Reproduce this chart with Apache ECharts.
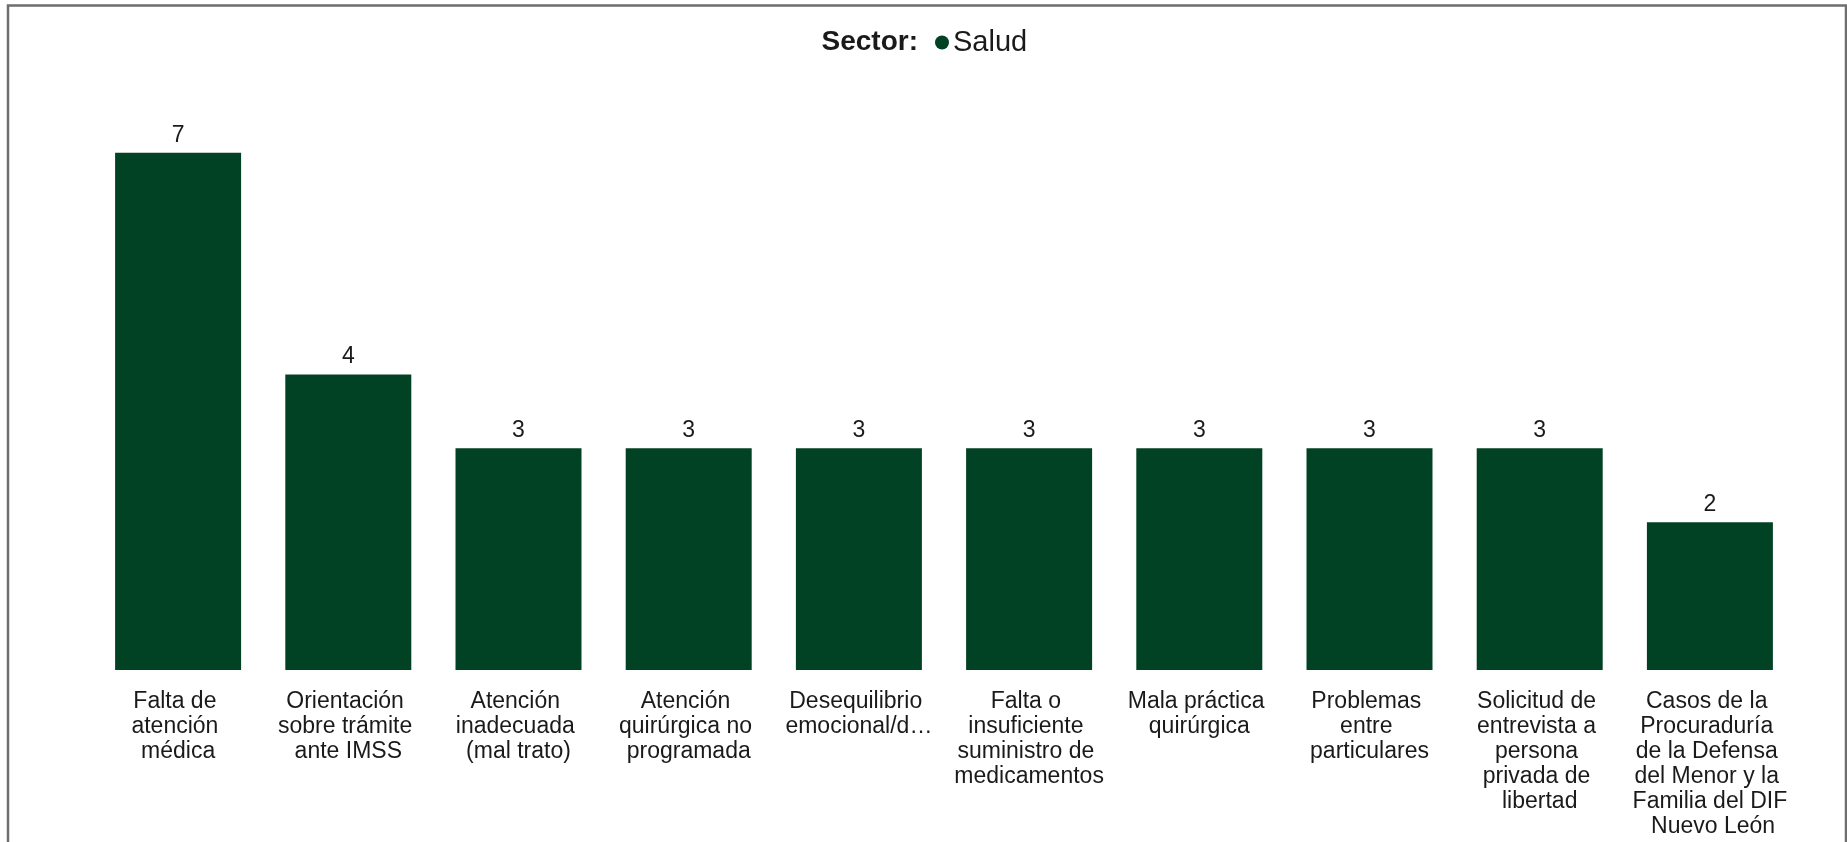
<!DOCTYPE html>
<html>
<head>
<meta charset="utf-8">
<script src="https://cdn.jsdelivr.net/npm/echarts@6/dist/echarts.min.js"></script>
<style>
html,body{margin:0;padding:0;background:#fff;}
#chart{width:1847px;height:842px;}
</style>
</head>
<body>
<div id="chart"></div>
<script>
const categories = [
  "Falta de atención médica",
  "Orientación sobre trámite ante IMSS",
  "Atención inadecuada (mal trato)",
  "Atención quirúrgica no programada",
  "Desequilibrio emocional/d…",
  "Falta o insuficiente suministro de medicamentos",
  "Mala práctica quirúrgica",
  "Problemas entre particulares",
  "Solicitud de entrevista a persona privada de libertad",
  "Casos de la Procuraduría de la Defensa del Menor y la Familia del DIF Nuevo León"
];
const seriesName = "Salud";
const values = [7, 4, 3, 3, 3, 3, 3, 3, 3, 2];
const legendTitle = "Sector:";

const chart = echarts.init(document.getElementById('chart'));
const font = '"Liberation Sans", Arial, sans-serif';
chart.setOption({
  animation: false,
  backgroundColor: '#fff',
  textStyle: { fontFamily: font },
  title: {
    text: legendTitle,
    right: 1847 - 923,
    top: 23,
    textStyle: { fontFamily: font, fontSize: 28, fontWeight: 'bold', color: '#1a1a1a' }
  },
  legend: {
    data: [seriesName],
    left: 930,
    top: 23,
    icon: 'circle',
    itemWidth: 14,
    itemHeight: 14,
    padding: [5, 5, 5, 5],
    textStyle: { fontFamily: font, fontSize: 29, color: '#1a1a1a', padding: [0, 0, 0, -1] }
  },
  grid: { left: 93, right: 52, top: 152.7, bottom: 172, containLabel: false },
  xAxis: {
    type: 'category',
    data: categories,
    axisLine: { show: false },
    axisTick: { show: false },
    axisLabel: {
      interval: 0,
      margin: 19,
      width: 160,
      overflow: 'break',
      fontSize: 23,
      lineHeight: 25,
      color: '#1a1a1a',
      fontFamily: font,
      align: 'center'
    }
  },
  yAxis: {
    type: 'value',
    min: 0,
    max: 7,
    show: false,
    splitLine: { show: false }
  },
  series: [{
    name: seriesName,
    type: 'bar',
    data: values,
    barWidth: 126,
    itemStyle: { color: '#024224' },
    label: {
      show: true,
      position: 'top',
      distance: 6,
      fontSize: 23,
      color: '#1a1a1a',
      fontFamily: font
    }
  }],
  graphic: [{
    type: 'rect',
    silent: true,
    shape: { x: 8, y: 5.5, width: 1838, height: 900 },
    style: { fill: null, stroke: '#6e6e6e', lineWidth: 2.5 }
  }]
});
</script>
</body>
</html>
